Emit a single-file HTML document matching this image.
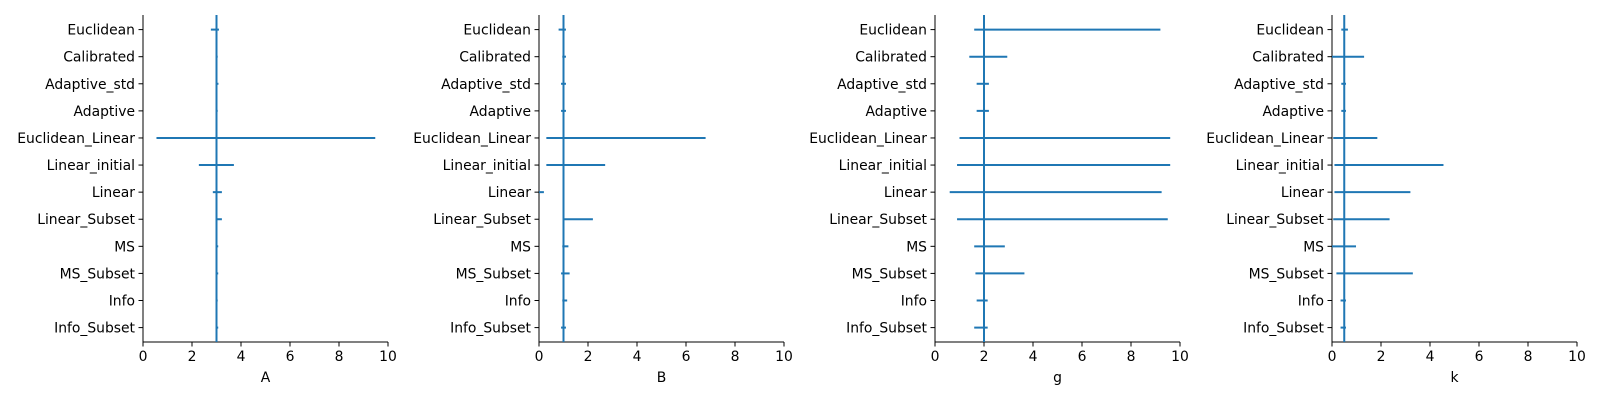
<!DOCTYPE html>
<html><head><meta charset="utf-8"><style>
body{margin:0;background:#fff;}
svg{display:block;font-family:"DejaVu Sans","Liberation Sans",sans-serif;}
</style></head><body>
<svg id="c" width="1600" height="400"></svg>
<script>
const categories=["Euclidean","Calibrated","Adaptive_std","Adaptive","Euclidean_Linear","Linear_initial","Linear","Linear_Subset","MS","MS_Subset","Info","Info_Subset"];
const xTicks=[0,2,4,6,8,10];
const panelNames=["A","B","g","k"];
const trueValues=[3,1,2,0.5];
const lowA=[2.77,3.0,3.0,3.0,0.55,2.28,2.85,2.97,3.0,3.0,3.0,3.0];
const highA=[3.1,3.05,3.08,3.05,9.48,3.71,3.22,3.22,3.07,3.07,3.05,3.07];
const lowB=[0.8,0.95,0.9,0.9,0.3,0.3,0.0,1.0,0.95,0.9,0.95,0.9];
const highB=[1.1,1.1,1.1,1.1,6.8,2.7,0.2,2.2,1.2,1.25,1.15,1.1];
const lowG=[1.6,1.4,1.7,1.7,1.0,0.9,0.6,0.9,1.6,1.65,1.7,1.6];
const highG=[9.2,2.95,2.2,2.2,9.6,9.6,9.25,9.5,2.85,3.65,2.15,2.15];
const lowK=[0.38,0.0,0.38,0.38,0.05,0.1,0.1,0.05,0.0,0.18,0.35,0.35];
const highK=[0.65,1.31,0.57,0.57,1.85,4.55,3.2,2.35,0.98,3.3,0.57,0.57];
const lows=[lowA,lowB,lowG,lowK], highs=[highA,highB,highG,highK];
const NS="http://www.w3.org/2000/svg", svgEl=document.getElementById('c');
const leftEdges=[143,539,935,1332], W=245, plotTop=15, plotBot=342;
function mk(t,a,p){const e=document.createElementNS(NS,t);for(const k in a)e.setAttribute(k,a[k]);(p||svgEl).appendChild(e);return e;}
const yOf=i=>29.6+i*(327.6-29.6)/(categories.length-1);
panelNames.forEach((nm,p)=>{
  const x0=leftEdges[p], xs=v=>x0+v*W/10;
  const g=mk('g',{});
  
  
  const ls=mk('line',{x1:x0,y1:plotTop,x2:x0,y2:plotBot,stroke:'#000','stroke-width':1},g);
  
  
  const bs=mk('line',{x1:x0,y1:plotBot,x2:x0+W,y2:plotBot,stroke:'#000','stroke-width':1},g);
  
  
  xTicks.forEach(t=>{
    mk('line',{x1:xs(t),y1:plotBot,x2:xs(t),y2:plotBot+4.5,stroke:'#000'},g);
    const tx=mk('text',{x:xs(t),y:plotBot+19,'font-size':13.9,'text-anchor':'middle'},g);tx.textContent=t;
    
    
  });
  categories.forEach((c,i)=>{
    mk('line',{x1:x0-4.5,y1:yOf(i),x2:x0,y2:yOf(i),stroke:'#000'},g);
    const tx=mk('text',{x:x0-8,y:yOf(i)+5,'font-size':13.9,'text-anchor':'end'},g);tx.textContent=c;
    
    
    const b=mk('line',{x1:xs(lows[p][i]),y1:yOf(i),x2:xs(highs[p][i]),y2:yOf(i),stroke:'#1f77b4','stroke-width':2},g);
    
    
  });
  const tv=mk('line',{x1:xs(trueValues[p]),y1:plotTop,x2:xs(trueValues[p]),y2:plotBot,stroke:'#1f77b4','stroke-width':2},g);
  
  
  const xl=mk('text',{x:x0+W/2,y:382,'font-size':13.9,'text-anchor':'middle'},g);xl.textContent=nm;
  
  
});
</script>
</body></html>
